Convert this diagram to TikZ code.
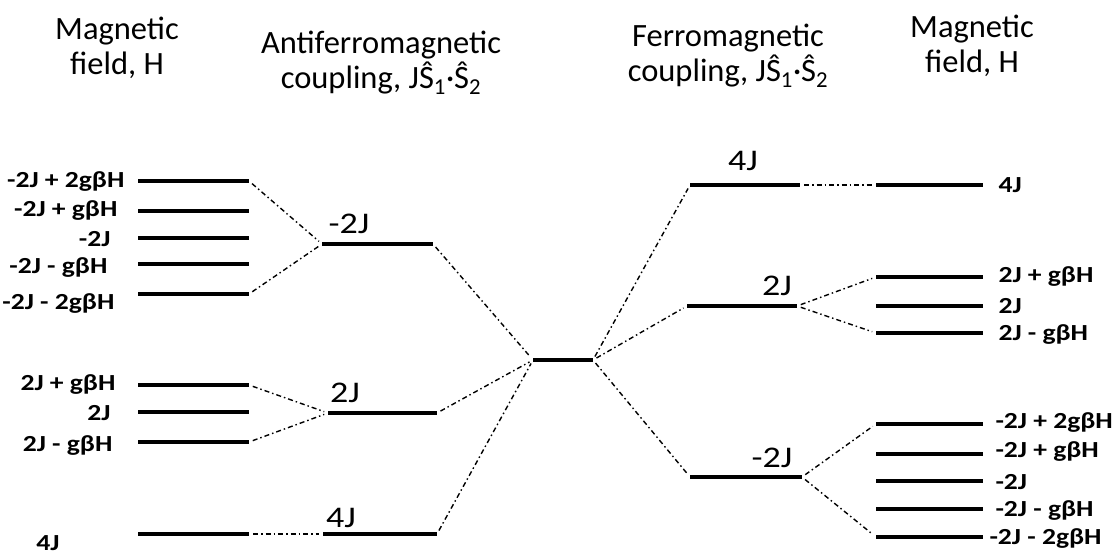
\documentclass[tikz,border=0pt]{standalone}
\usepackage{fontspec}
\setmainfont{Carlito}
\newfontfamily\valfont[FakeStretch=1.2]{Carlito}
\newfontfamily\cplfont[FakeStretch=1.2]{Carlito}
\begin{document}
\begin{tikzpicture}[x=1pt,y=-1pt,
  level/.style={line width=3.8pt},
  link/.style={line width=1.4pt,dash pattern=on 5pt off 3pt on 1.5pt off 3pt,shorten <=4pt,shorten >=4pt},
  title/.style={font=\fontsize{32.5}{35}\selectfont,align=center},
  val/.style={font=\valfont\fontsize{23}{25}\selectfont\bfseries},
  cpl/.style={font=\cplfont\fontsize{30}{32}\selectfont}]
\useasboundingbox (0,0) rectangle (1112,555);
% column titles
\node[title] (t1) at (117,48) {Magnetic\\field, H};
\node[title] (t2) at (381,63) {Antiferromagnetic\\coupling, JŜ\textsubscript{1}·Ŝ\textsubscript{2}};
\node[title] (t3) at (728,56) {Ferromagnetic\\coupling, JŜ\textsubscript{1}·Ŝ\textsubscript{2}};
\node[title] (t4) at (972,46) {Magnetic\\field, H};
% left: Zeeman levels
\foreach \n/\y in {a1/181,a2/211,a3/238,a4/264,a5/294,b1/385,b2/412,b3/442,c1/534}
  \draw[level] (138,\y) coordinate (\n w) -- (249,\y) coordinate (\n e);
\node[val,anchor=east] (la1) at (128,182) {-2J + 2gβH};
\node[val,anchor=east] (la2) at (121,211) {-2J + gβH};
\node[val,anchor=east] (la3) at (114,239) {-2J};
\node[val,anchor=east] (la4) at (111,268) {-2J - gβH};
\node[val,anchor=east] (la5) at (118,304) {-2J - 2gβH};
\node[val,anchor=east] (lb1) at (119,385) {2J + gβH};
\node[val,anchor=east] (lb2) at (114,413) {2J};
\node[val,anchor=east] (lb3) at (116,446) {2J - gβH};
\node[val,anchor=east] (lc1) at (63,543) {4J};
% antiferromagnetic coupling levels
\draw[level] (322,244) coordinate (Aw) -- (433,244) coordinate (Ae);
\draw[level] (328,413) coordinate (Bw) -- (437,413) coordinate (Be);
\draw[level] (323,534) coordinate (Cw) -- (437,534) coordinate (Ce);
\node[cpl] (lA) at (349,224) {-2J};
\node[cpl] (lB) at (345,393) {2J};
\node[cpl] (lC) at (341,518) {4J};
% uncoupled level
\draw[level] (533,360) coordinate (Ow) -- (593,360) coordinate (Oe);
% ferromagnetic coupling levels
\draw[level] (690,185) coordinate (Dw) -- (800,185) coordinate (De);
\draw[level] (687,306) coordinate (Ew) -- (797,306) coordinate (Ee);
\draw[level] (690,477) coordinate (Fw) -- (802,477) coordinate (Fe);
\node[cpl] (lD) at (743,161) {4J};
\node[cpl] (lE) at (777,286) {2J};
\node[cpl] (lF) at (772,458) {-2J};
% right: Zeeman levels
\foreach \n/\y in {d1/185,e1/277,e2/306,e3/333,f1/424,f2/454,f3/481,f4/509,f5/537}
  \draw[level] (876,\y) coordinate (\n w) -- (983,\y) coordinate (\n e);
\node[val,anchor=west] (ld1) at (995,185) {4J};
\node[val,anchor=west] (le1) at (995,277) {2J + gβH};
\node[val,anchor=west] (le2) at (995,306) {2J};
\node[val,anchor=west] (le3) at (995,335) {2J - gβH};
\node[val,anchor=west] (lf1) at (992,423) {-2J + 2gβH};
\node[val,anchor=west] (lf2) at (992,452) {-2J + gβH};
\node[val,anchor=west] (lf3) at (992,482) {-2J};
\node[val,anchor=west] (lf4) at (992,511) {-2J - gβH};
\node[val,anchor=west] (lf5) at (986,539) {-2J - 2gβH};
% correlation lines
\draw[link] (a1e) -- (Aw);
\draw[link] (a5e) -- (Aw);
\draw[link] (b1e) -- (Bw);
\draw[link] (b3e) -- (Bw);
\draw[link] (c1e) -- (Cw);
\draw[link] (Ae) -- (Ow);
\draw[link] (Be) -- (Ow);
\draw[link] (Ce) -- (Ow);
\draw[link] (Oe) -- (Dw);
\draw[link] (Oe) -- (Ew);
\draw[link] (Oe) -- (Fw);
\draw[link] (De) -- (d1w);
\draw[link] (Ee) -- (e1w);
\draw[link] (Ee) -- (e3w);
\draw[link] (Fe) -- (f1w);
\draw[link] (Fe) -- (f5w);
\end{tikzpicture}
\end{document}
